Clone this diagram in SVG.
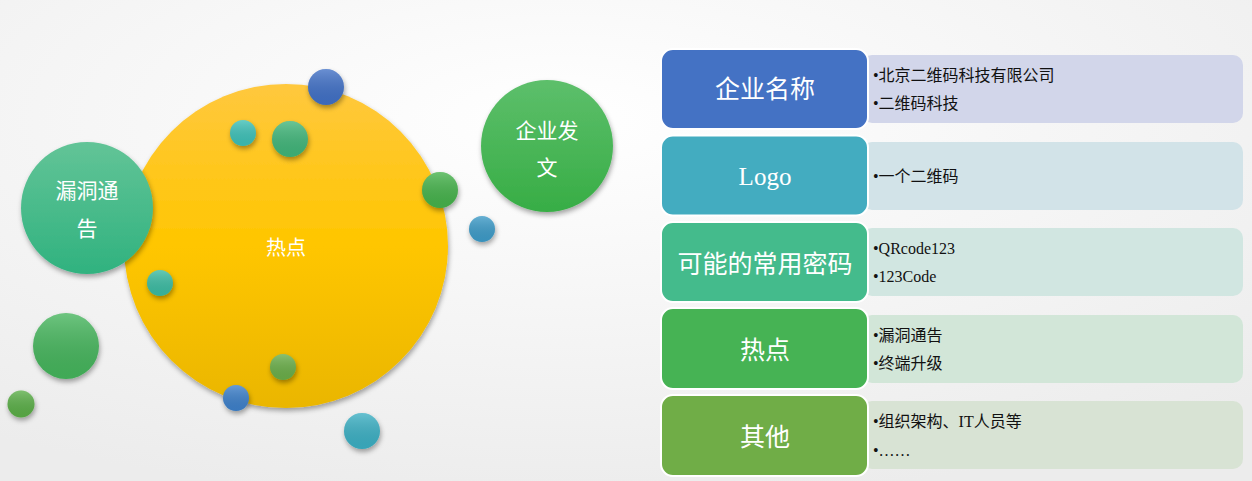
<svg xmlns="http://www.w3.org/2000/svg" width="1252" height="481" viewBox="0 0 1252 481">
<defs>
<radialGradient id="bg" cx="0.45" cy="0.25" r="0.8">
<stop offset="0" stop-color="#ffffff"/>
<stop offset="1" stop-color="#ececec"/>
</radialGradient>
<linearGradient id="yel" x1="0" y1="0" x2="0" y2="1">
<stop offset="0" stop-color="#FFC83E"/>
<stop offset="0.5" stop-color="#FFC600"/>
<stop offset="1" stop-color="#EAB600"/>
</linearGradient>
<linearGradient id="teal" x1="0" y1="0" x2="0" y2="1">
<stop offset="0" stop-color="#62C497"/>
<stop offset="1" stop-color="#30B27F"/>
</linearGradient>
<linearGradient id="grn" x1="0" y1="0" x2="0" y2="1">
<stop offset="0" stop-color="#5DBF6B"/>
<stop offset="1" stop-color="#37AD45"/>
</linearGradient>
<linearGradient id="shine" x1="0" y1="0" x2="0" y2="1">
<stop offset="0" stop-color="#ffffff" stop-opacity="0.22"/>
<stop offset="1" stop-color="#000000" stop-opacity="0.06"/>
</linearGradient>
<filter id="sh" x="-30%" y="-30%" width="160%" height="160%">
<feDropShadow dx="1" dy="3" stdDeviation="2.5" flood-color="#000" flood-opacity="0.35"/>
</filter>
</defs>
<style>
.ct{font-family:"Noto Sans CJK SC","Noto Sans",sans-serif;fill:#fff;text-anchor:middle}
.bt{font-family:"Liberation Serif","Noto Sans CJK SC",serif;fill:#fff;text-anchor:middle;font-size:25px}
.it{font-family:"Liberation Serif","Noto Sans CJK SC",serif;fill:#111;font-size:16px}
.lt{stroke:#fff;stroke-width:2}
</style>
<rect width="1252" height="481" fill="url(#bg)"/>

<g id="hotspot">
<circle cx="286" cy="246" r="162" fill="url(#yel)" filter="url(#sh)"/>
<text class="ct" x="286" y="255" font-size="20">热点</text>
</g>
<g id="vuln">
<circle cx="87" cy="208" r="66" fill="url(#teal)" filter="url(#sh)"/>
<text class="ct" x="87" y="198" font-size="21">漏洞通</text>
<text class="ct" x="87" y="236" font-size="21">告</text>
</g>
<g id="corpdoc">
<circle cx="547" cy="146" r="66" fill="url(#grn)" filter="url(#sh)"/>
<text class="ct" x="547" y="138" font-size="21">企业发</text>
<text class="ct" x="547" y="175" font-size="21">文</text>
</g>

<g id="decor" filter="url(#sh)">
<circle cx="326" cy="87" r="18" fill="#4070C6"/>
<circle cx="243" cy="133" r="13" fill="#3DC0B7"/>
<circle cx="290" cy="139" r="18" fill="#40B579"/>
<circle cx="440" cy="190" r="18" fill="#45B24B"/>
<circle cx="482" cy="229" r="13" fill="#3C9BC8"/>
<circle cx="160" cy="283" r="13" fill="#3BBBA2"/>
<circle cx="66" cy="346" r="33" fill="#45B55C"/>
<circle cx="21" cy="404" r="13.5" fill="#5AAE46"/>
<circle cx="283" cy="367" r="13" fill="#6AAE4A"/>
<circle cx="236" cy="398" r="13" fill="#3D80CA"/>
<circle cx="362" cy="431" r="18" fill="#3BAFC3"/>
</g>
<g id="decor-shine" fill="url(#shine)">
<circle cx="326" cy="87" r="18"/>
<circle cx="243" cy="133" r="13"/>
<circle cx="290" cy="139" r="18"/>
<circle cx="440" cy="190" r="18"/>
<circle cx="482" cy="229" r="13"/>
<circle cx="160" cy="283" r="13"/>
<circle cx="66" cy="346" r="33"/>
<circle cx="21" cy="404" r="13.5"/>
<circle cx="283" cy="367" r="13"/>
<circle cx="236" cy="398" r="13"/>
<circle cx="362" cy="431" r="18"/>
</g>

<g id="row1">
<rect x="862" y="55" width="381" height="68" rx="10" fill="#D2D6EA"/>
<rect class="lt" x="661" y="49" width="207" height="80" rx="12" fill="#4472C4"/>
<text class="bt" x="765" y="98">企业名称</text>
<text class="it" x="873" y="81">•北京二维码科技有限公司</text>
<text class="it" x="873" y="109">•二维码科技</text>
</g>
<g id="row2">
<rect x="862" y="142" width="381" height="68" rx="10" fill="#D2E3E8"/>
<rect class="lt" x="661" y="135.5" width="207" height="80" rx="12" fill="#43ACC0"/>
<text class="bt" x="765" y="185">Logo</text>
<text class="it" x="873" y="182">•一个二维码</text>
</g>
<g id="row3">
<rect x="862" y="228" width="381" height="68" rx="10" fill="#D1E6E1"/>
<rect class="lt" x="661" y="222" width="207" height="80" rx="12" fill="#44BB8C"/>
<text class="bt" x="765" y="273">可能的常用密码</text>
<text class="it" x="873" y="254">•QRcode123</text>
<text class="it" x="873" y="282">•123Code</text>
</g>
<g id="row4">
<rect x="862" y="315" width="381" height="68" rx="10" fill="#D2E6D8"/>
<rect class="lt" x="661" y="308" width="207" height="81" rx="12" fill="#46B354"/>
<text class="bt" x="765" y="359">热点</text>
<text class="it" x="873" y="341">•漏洞通告</text>
<text class="it" x="873" y="369">•终端升级</text>
</g>
<g id="row5">
<rect x="862" y="401" width="381" height="68" rx="10" fill="#D8E3D4"/>
<rect class="lt" x="661" y="395" width="207" height="81" rx="12" fill="#70AD47"/>
<text class="bt" x="765" y="446">其他</text>
<text class="it" x="873" y="427">•组织架构、IT人员等</text>
<text class="it" x="873" y="456">•……</text>
</g>
<g id="connectors"/>
</svg>
